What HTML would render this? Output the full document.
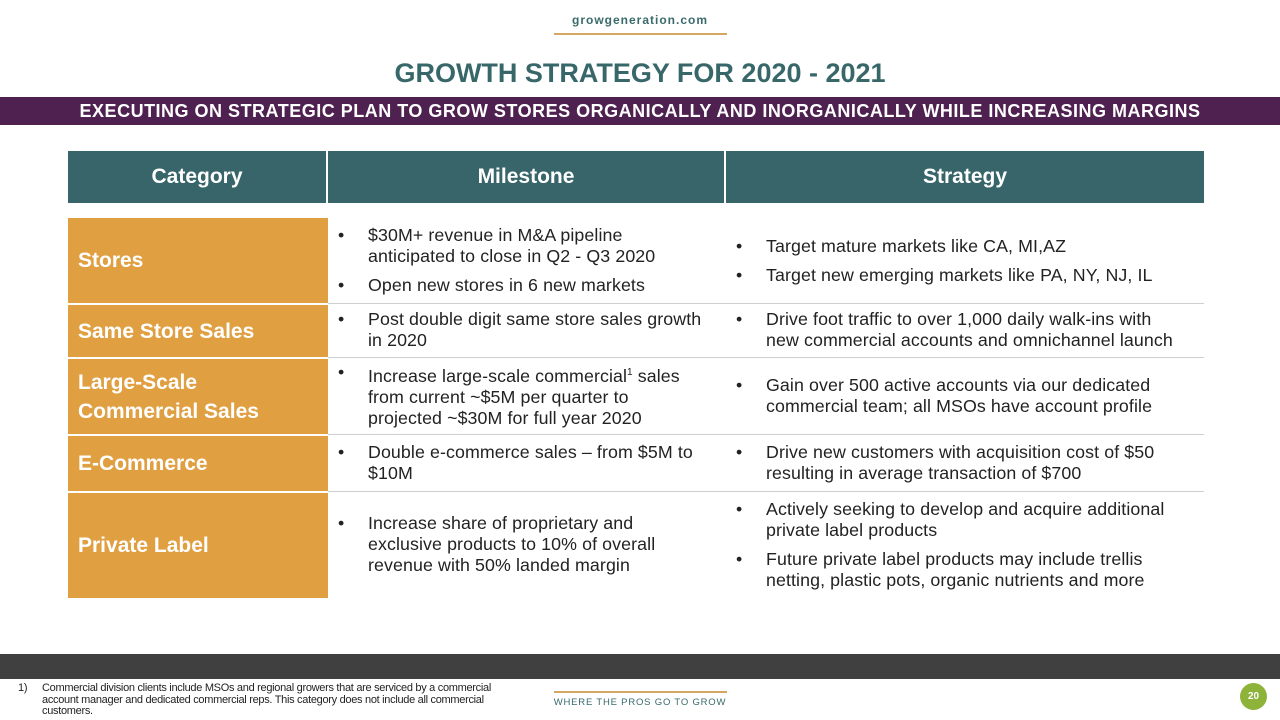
<!DOCTYPE html>
<html><head><meta charset="utf-8"><style>
*{margin:0;padding:0;box-sizing:border-box}
body{width:1280px;height:720px;position:relative;background:#fff;font-family:"Liberation Sans",sans-serif;overflow:hidden}
.a{position:absolute}
.cat{position:absolute;left:68px;width:260px;background:#e0a042;color:#fff;font-weight:bold;font-size:21px;display:flex;align-items:center;padding-left:10px;line-height:29px;border-top:2px solid #fff}
.cell{position:absolute;font-size:17.8px;color:#222;line-height:21px;display:flex;flex-direction:column;justify-content:center;letter-spacing:0.1px;white-space:nowrap}
.cell div{position:relative;padding-left:40px;margin:4px 0}
.cell div:before{content:"•";position:absolute;left:10px}
.m{left:328px;width:398px}
.s{left:726px;width:478px}
.sep{position:absolute;left:328px;width:876px;height:1px;background:#cfcfcf}
</style></head><body>
<div class="a" style="left:0;width:1280px;top:13px;text-align:center;font-size:12px;font-weight:bold;color:#3a6a6c;letter-spacing:1px">growgeneration.com</div>
<div class="a" style="left:554px;width:173px;top:33px;height:2px;background:#d4a860"></div>
<div class="a" style="left:0;width:1280px;top:58px;text-align:center;font-size:27px;font-weight:bold;color:#38676a">GROWTH STRATEGY FOR 2020 - 2021</div>
<div class="a" style="left:0;width:1280px;top:97px;height:28px;background:#4e2150;color:#fff;font-weight:bold;font-size:18px;letter-spacing:0.5px;text-align:center;line-height:28px;white-space:nowrap">EXECUTING ON STRATEGIC PLAN TO GROW STORES ORGANICALLY AND INORGANICALLY WHILE INCREASING MARGINS</div>
<div class="a" style="left:68px;top:151px;width:1136px;height:52px;background:#37656a;color:#fff;font-weight:bold;font-size:21px;display:flex">
<div style="width:260px;text-align:center;line-height:52px;border-right:2px solid #fff">Category</div>
<div style="width:398px;text-align:center;line-height:52px;border-right:2px solid #fff">Milestone</div>
<div style="flex:1;text-align:center;line-height:52px">Strategy</div></div>

<div class="cat" style="top:218px;height:85px;border-top:0">Stores</div>
<div class="cat" style="top:303px;height:54px">Same Store Sales</div>
<div class="cat" style="top:357px;height:77px">Large-Scale<br>Commercial Sales</div>
<div class="cat" style="top:434px;height:57px">E-Commerce</div>
<div class="cat" style="top:491px;height:107px">Private Label</div>
<div class="sep" style="top:303px"></div><div class="sep" style="top:357px"></div><div class="sep" style="top:434px"></div><div class="sep" style="top:491px"></div>

<div class="cell m" style="top:218px;height:85px"><div>$30M+ revenue in M&amp;A pipeline<br>anticipated to close in Q2 - Q3 2020</div><div>Open new stores in 6 new markets</div></div>
<div class="cell s" style="top:218px;height:85px"><div>Target mature markets like CA, MI,AZ</div><div>Target new emerging markets like PA, NY, NJ, IL</div></div>
<div class="cell m" style="top:303px;height:54px"><div>Post double digit same store sales growth<br>in 2020</div></div>
<div class="cell s" style="top:303px;height:54px"><div>Drive foot traffic to over 1,000 daily walk-ins with<br>new commercial accounts and omnichannel launch</div></div>
<div class="cell m" style="top:357px;height:77px"><div>Increase large-scale commercial<sup style="font-size:10px">1</sup> sales<br>from current ~$5M per quarter to<br>projected ~$30M for full year 2020</div></div>
<div class="cell s" style="top:357px;height:77px"><div>Gain over 500 active accounts via our dedicated<br>commercial team; all MSOs have account profile</div></div>
<div class="cell m" style="top:434px;height:57px"><div>Double e-commerce sales – from $5M to<br>$10M</div></div>
<div class="cell s" style="top:434px;height:57px"><div>Drive new customers with acquisition cost of $50<br>resulting in average transaction of $700</div></div>
<div class="cell m" style="top:491px;height:107px"><div>Increase share of proprietary and<br>exclusive products to 10% of overall<br>revenue with 50% landed margin</div></div>
<div class="cell s" style="top:491px;height:107px"><div>Actively seeking to develop and acquire additional<br>private label products</div><div>Future private label products may include trellis<br>netting, plastic pots, organic nutrients and more</div></div>

<div class="a" style="left:0;top:654px;width:1280px;height:25px;background:#404040"></div>
<div class="a" style="left:18px;top:683px;width:520px;font-size:11px;line-height:11.5px;color:#222;padding-left:24px;letter-spacing:-0.3px;white-space:nowrap"><span style="position:absolute;left:0">1)</span>Commercial division clients include MSOs and regional growers that are serviced by a commercial<br>account manager and dedicated commercial reps. This category does not include all commercial<br>customers.</div>
<div class="a" style="left:554px;width:173px;top:691px;height:2px;background:#d4a860"></div>
<div class="a" style="left:540px;width:200px;top:697px;text-align:center;font-size:9.5px;color:#3a6a6c;letter-spacing:0.8px;white-space:nowrap">WHERE THE PROS GO TO GROW</div>
<div class="a" style="left:1240px;top:683px;width:27px;height:27px;border-radius:50%;background:#8db33a;color:#fff;font-size:10px;font-weight:bold;text-align:center;line-height:27px">20</div>
</body></html>
